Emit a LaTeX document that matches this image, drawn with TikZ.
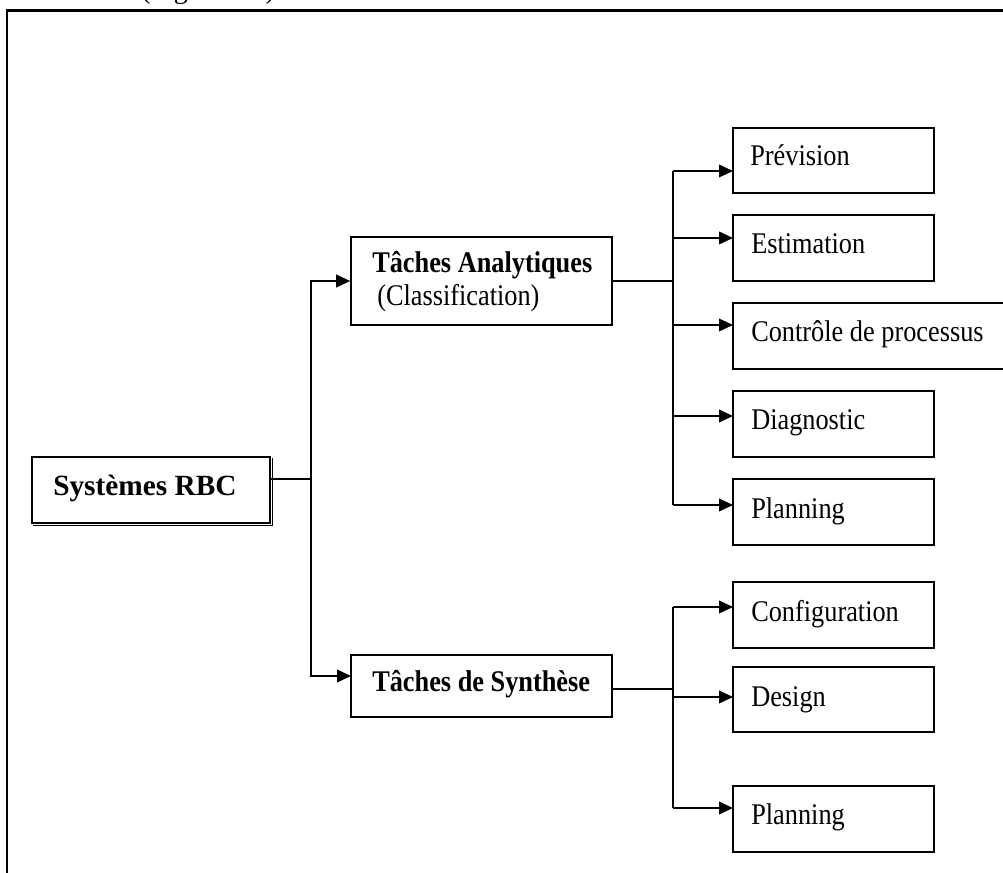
\documentclass[tikz,border=0pt]{standalone}
\usepackage{fontspec}
\setmainfont{Liberation Serif}
\newfontfamily\boxfont[FakeStretch=0.877]{Liberation Serif}
\usetikzlibrary{arrows.meta,fit,calc}
\begin{document}
\begin{tikzpicture}[x=0.75pt,y=-0.75pt,
  box/.style={draw, line width=1.2pt, inner sep=0pt, rectangle},
  lbl/.style={anchor=base west, inner sep=0pt, font=\boxfont\fontsize{22.5}{27}\selectfont},
  wire/.style={line width=1.2pt},
  arr/.style={wire, -{Triangle[length=10.5pt,width=9.5pt]}},
  frame/.style={line width=1.9pt},
]
\useasboundingbox (0,0) rectangle (1003,873);
\clip (0,0) rectangle (1003,873);

% caption line above the frame
\node[anchor=base west, inner sep=0pt, font=\fontsize{21}{25}\selectfont] (cap) at (141,-1) {(Figure 1.3)};

% outer frame
\draw[frame] (7,10.5) rectangle (1040,900);

% root box with its shadow
\node[box, fit={(32,457)(270,523)}] (rbc) {};
\draw[line width=1.3pt] ([shift={(1.6,2)}]rbc.north east) -- ([shift={(1.6,1.6)}]rbc.south east) -- ([shift={(2,1.6)}]rbc.south west);
\node[anchor=base west, inner sep=0pt, font=\fontsize{22}{26}\selectfont\bfseries] (rbcT) at (53,495) {Systèmes RBC};

% second level
\node[box, fit={(351,237)(612,325)}] (ta) {};
\node[lbl, font=\boxfont\fontsize{22.5}{27}\selectfont\bfseries] (taT) at (372,273) {Tâches Analytiques};
\node[lbl] (taC) at (377,306) {(Classification)};

\node[box, fit={(351,655)(612,717)}] (ts) {};
\node[lbl, font=\boxfont\fontsize{22.5}{27}\selectfont\bfseries] (tsT) at (372,691) {Tâches de Synthèse};

% third level, analytic tasks
\node[box, fit={(733,128)(934,193)}] (prev) {};
\node[lbl] (prevT) at (750,166) {Prévision};
\node[box, fit={(733,215)(934,281)}] (esti) {};
\node[lbl] (estiT) at (751,254) {Estimation};
\node[box, fit={(733,303)(1040,369)}] (ctrl) {};
\node[lbl] (ctrlT) at (751,342) {Contrôle de processus};
\node[box, fit={(733,391)(934,457)}] (diag) {};
\node[lbl] (diagT) at (751,430) {Diagnostic};
\node[box, fit={(733,479)(934,545)}] (plan) {};
\node[lbl] (planT) at (751,518) {Planning};

% third level, synthesis tasks
\node[box, fit={(733,582)(934,648)}] (conf) {};
\node[lbl] (confT) at (751,621) {Configuration};
\node[box, fit={(733,667)(934,732)}] (desi) {};
\node[lbl] (desiT) at (751,706) {Design};
\node[box, fit={(733,786)(934,852)}] (plas) {};
\node[lbl] (plasT) at (751,824) {Planning};

% bus coordinates
\coordinate (busL) at (311,479);
\coordinate (inS) at (351,676);
\coordinate (busA) at (673,281);
\coordinate (busS) at (673,689);
\coordinate (e1) at (733,171);
\coordinate (e2) at (733,238);
\coordinate (e3) at (733,325);
\coordinate (e4) at (733,416);
\coordinate (e5) at (733,505);
\coordinate (s1) at (733,607);
\coordinate (s2) at (733,697);
\coordinate (s3) at (733,808);

% root to second level
\draw[wire] (rbc.east |- busL) -- (busL);
\draw[arr] (busL) |- (ta.west);
\draw[arr] (busL) |- (inS);

% analytic branch
\draw[wire] (ta.east) -- (busA);
\draw[wire] (busA |- e1) -- (busA |- e5);
\foreach \t in {e1,e2,e3,e4,e5} \draw[arr] (busA |- \t) -- (\t);

% synthesis branch
\draw[wire] (ts.east |- busS) -- (busS);
\draw[wire] (busS |- s1) -- (busS |- s3);
\foreach \t in {s1,s2,s3} \draw[arr] (busS |- \t) -- (\t);
\end{tikzpicture}
\end{document}
